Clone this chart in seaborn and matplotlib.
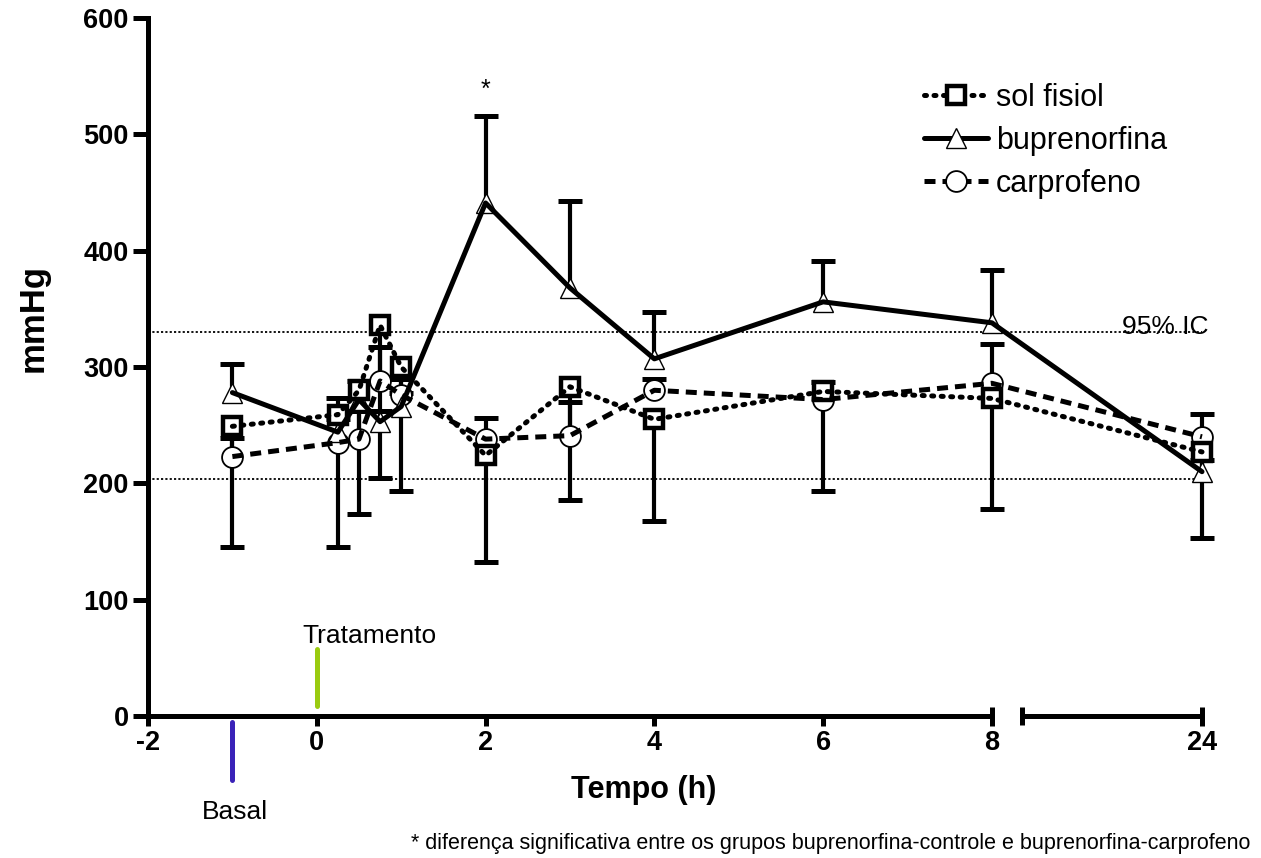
import numpy as np
import pandas as pd
import seaborn as sns
import matplotlib
matplotlib.use("Agg")
import matplotlib.pyplot as plt
from matplotlib.lines import Line2D

sns.set_theme(style="white")
plt.rcParams['font.family'] = ['Liberation Sans', 'DejaVu Sans']
plt.rcParams['text.color'] = 'black'
plt.rcParams['axes.labelcolor'] = 'black'
plt.rcParams['xtick.color'] = 'black'
plt.rcParams['ytick.color'] = 'black'

# ---------------- data ----------------
times = [-1, 0.25, 0.5, 0.75, 1, 2, 3, 4, 6, 8, 24]
sol_fisiol = [249, 259, 280, 336, 300, 224, 283, 255, 279, 273, 227]
sol_fisiol_low = [145, 145, 174, 205, 193, 132, 186, 168, 193, 178, 153]
buprenorfina = [278, 244, 272, 253, 266, 441, 368, 307, 356, 338, 210]
buprenorfina_high = [303, 273, 288, 262, 278, 516, 443, 347, 391, 383, 220]
carprofeno = [223, 235, 238, 288, 276, 238, 241, 280, 272, 286, 240]
carprofeno_high = [239, 255, 262, 317, 290, 256, 270, 290, 287, 320, 260]
ic95 = [203.5, 330]
x_ticks = [-2, 0, 2, 4, 6, 8, 24]
x_ticklabels = ['-2', '0', '2', '4', '6', '8', '24']
y_ticks = [0, 100, 200, 300, 400, 500, 600]
legend_labels = ['sol fisiol', 'buprenorfina', 'carprofeno']
footnote = '* diferença significativa entre os grupos buprenorfina-controle e buprenorfina-carprofeno'

# broken axis: 24 h is drawn just after the break following 8 h
POS24 = 10.49
def pos(t):
    return t if t <= 8 else POS24

xp = [pos(t) for t in times]

fig = plt.figure(figsize=(12.61, 8.58), dpi=100)
ax = fig.add_axes([148/1261, 1-716/858, (1202-148)/1261, (716-18)/858])
ax.set_xlim(-2, POS24)
ax.set_ylim(0, 600)

# 95% IC reference lines
for v in ic95:
    ax.axhline(v, color='black', lw=1.3, ls=(0, (1.2, 1.2)), zorder=1)
narrow = ['Liberation Sans Narrow', 'Liberation Sans', 'DejaVu Sans']
fig.text(1208/1261, 1-327/858, '95% IC', ha='right', va='center',
         fontsize=19, family=narrow, zorder=1)

def ebar(means, ends):
    means = np.asarray(means, float); ends = np.asarray(ends, float)
    lo = np.clip(means - ends, 0, None)
    hi = np.clip(ends - means, 0, None)
    _, caps, bars = ax.errorbar(xp, means, yerr=[lo, hi], fmt='none', ecolor='black',
                                elinewidth=3.0, capsize=8.5, capthick=3.6, zorder=2)
    for c in caps:
        c.set_clip_on(False)
        yd = np.asarray(c.get_ydata(), float)
        if np.allclose(yd, means):
            c.set_visible(False)
    for b in bars:
        b.set_capstyle('butt')
        b.set_clip_on(False)

ebar(sol_fisiol, sol_fisiol_low)
ebar(buprenorfina, buprenorfina_high)
ebar(carprofeno, carprofeno_high)

# markers
ax.plot(xp, carprofeno, ls='none', marker='o', ms=15, mfc='white', mec='black', mew=1.3, zorder=3, clip_on=False)
ax.plot(xp, buprenorfina, ls='none', marker='^', ms=15, mfc='white', mec='black', mew=1.0, zorder=3, clip_on=False)
ax.plot(xp, sol_fisiol, ls='none', marker='s', ms=13, mfc='white', mec='black', mew=3.2, zorder=3, clip_on=False)

# lines via seaborn
df = pd.DataFrame({'x': xp * 3,
                   'y': sol_fisiol + buprenorfina + carprofeno,
                   'grupo': [legend_labels[0]] * len(xp) + [legend_labels[1]] * len(xp) + [legend_labels[2]] * len(xp)})
styles = {legend_labels[0]: (0, (0.4, 1.5)), legend_labels[1]: '-', legend_labels[2]: (0, (2.2, 1.4))}
for g, sub in df.groupby('grupo', sort=False):
    sns.lineplot(data=sub, x='x', y='y', ax=ax, color='black', lw=3.6, sort=False,
                 linestyle=styles[g], legend=False, zorder=4,
                 dash_capstyle='round' if g == legend_labels[0] else 'butt')
for ln in ax.get_lines():
    ln.set_clip_on(False)

# axes styling
for s in ['top', 'right', 'bottom']:
    ax.spines[s].set_visible(False)
ax.spines['left'].set_linewidth(3.6)
ax.spines['left'].set_color('black')
ax.set_yticks(y_ticks)
ax.set_xticks([pos(t) for t in x_ticks])
ax.set_xticklabels(x_ticklabels)
ax.tick_params(axis='y', direction='out', length=11, width=3.6, color='black', pad=3,
               labelsize=19.5, left=True, labelcolor='black')
ax.tick_params(axis='x', direction='out', length=7, width=3.6, color='black', pad=3,
               labelsize=19.5, bottom=True, labelcolor='black')
for lab in ax.get_xticklabels() + ax.get_yticklabels():
    lab.set_fontweight('bold')
ax.set_xlabel(''); ax.set_ylabel('')
ax.grid(False)

# broken x-axis drawn as two segments
ax.plot([-2, 8], [0, 0], color='black', lw=3.6, clip_on=False, zorder=5, solid_capstyle='butt')
ax.plot([8.36, POS24], [0, 0], color='black', lw=3.6, clip_on=False, zorder=5, solid_capstyle='butt')
ax.plot([8, 8.36, POS24], [0, 0, 0], ls='none', marker='|', ms=13, mew=3.6, color='black',
        clip_on=False, zorder=5)

# axis titles
fig.text(644/1261, 1-790/858, 'Tempo (h)', ha='center', va='center', fontsize=22, fontweight='bold')
fig.text(33/1261, 1-318/858, 'mmHg', ha='center', va='center', fontsize=25, fontweight='bold', rotation=90)

# Basal / Tratamento markers
ax.plot([-1, -1], [-5, -55], color='#3a22b8', lw=3.6, clip_on=False, solid_capstyle='round')
ax.plot([0, 0], [8.6, 58], color='#9acb10', lw=3.6, clip_on=False, solid_capstyle='round')
fig.text(235/1261, 1-812/858, 'Basal', ha='center', va='center', fontsize=19, family=narrow)
fig.text(369/1261, 1-636/858, 'Tratamento', ha='center', va='center', fontsize=19, family=narrow)

# significance star and footnote
ax.text(2, 538, '*', ha='center', va='center', fontsize=18)
fig.text(1250/1261, 1-843/858, footnote, ha='right', va='center', fontsize=15.5)

# legend
handles = [
    Line2D([], [], color='black', lw=3.6, ls=(0, (0.4, 1.5)), dash_capstyle='round',
           marker='s', ms=13, mfc='white', mec='black', mew=3.2),
    Line2D([], [], color='black', lw=3.6, ls='-', marker='^', ms=15, mfc='white', mec='black', mew=1.0),
    Line2D([], [], color='black', lw=3.6, ls=(0, (2.2, 1.4)), marker='o', ms=15, mfc='white',
           mec='black', mew=1.3),
]
leg = fig.legend(handles, legend_labels, loc='upper left', bbox_to_anchor=(924/1261, 1-83/858),
                 frameon=False, fontsize=22, handlelength=2.1, handletextpad=0.25, labelspacing=0.42,
                 borderpad=0, borderaxespad=0)

fig.savefig('out.png', dpi=100)
